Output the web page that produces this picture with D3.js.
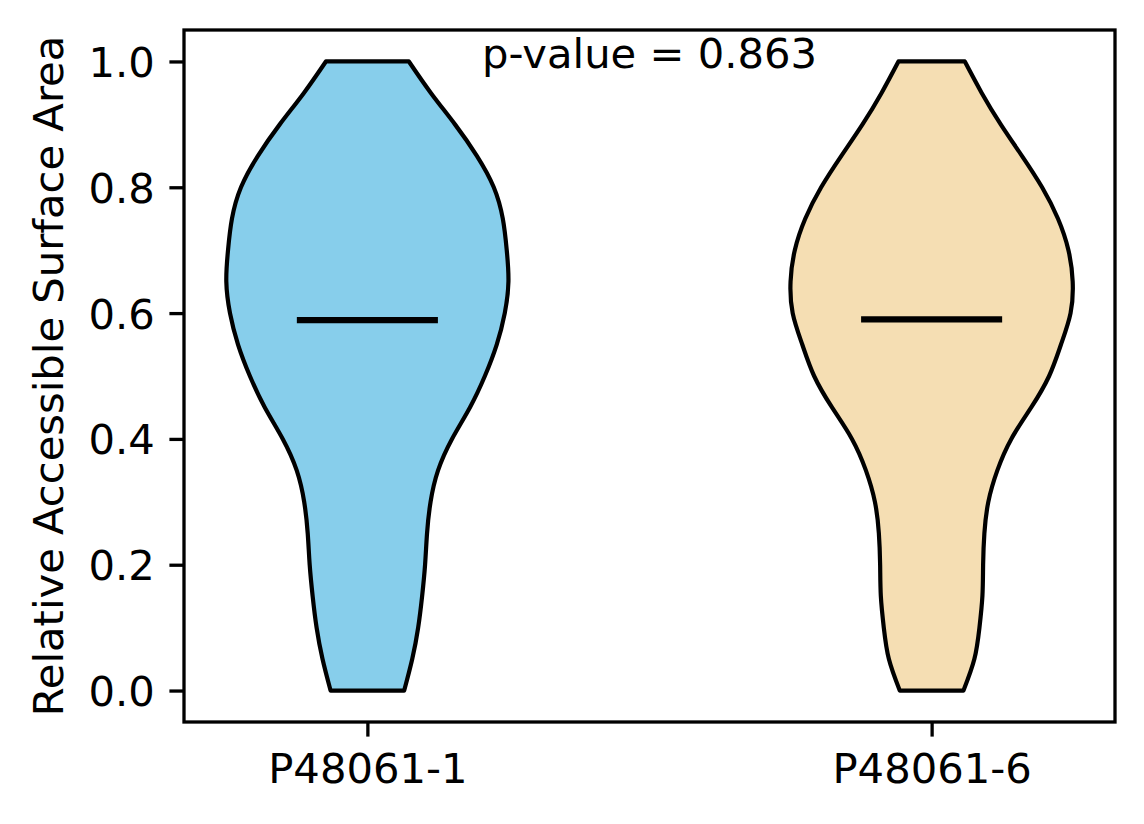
<!DOCTYPE html>
<html>
<head>
<meta charset="utf-8">
<script src="https://cdn.jsdelivr.net/npm/d3@7"></script>
<style>
  html, body { margin: 0; padding: 0; background: #fff; }
  svg { display: block; font-family: "DejaVu Sans", sans-serif; }
</style>
</head>
<body>
<div id="chart"></div>
<script>
// ── DATA ─────────────────────────────────────
const groups = ['P48061-1', 'P48061-6'];
const positions = [1, 2];
const colors = ['#87CEEB', '#F5DEB3'];

// RSA grid the density was read at
const rsaGrid = [0, 0.05, 0.1, 0.15, 0.2, 0.25, 0.3, 0.35, 0.4, 0.45, 0.5,
                 0.55, 0.6, 0.65, 0.7, 0.75, 0.8, 0.85, 0.9, 0.95, 1.0];

// relative violin width (1 = widest) at each grid value
const widthP1 = [0.261, 0.318, 0.360, 0.388, 0.409, 0.423, 0.448, 0.501, 0.600, 0.727, 0.833,
                 0.917, 0.974, 1.000, 0.988, 0.960, 0.896, 0.776, 0.621, 0.450, 0.294];
const widthP6 = [0.226, 0.303, 0.339, 0.360, 0.365, 0.374, 0.402, 0.466, 0.565, 0.706, 0.833,
                 0.917, 0.985, 1.000, 0.970, 0.896, 0.783, 0.640, 0.490, 0.355, 0.235];

const medians = [0.589, 0.590];
const pValue = 0.863;
const yTicks = [0.0, 0.2, 0.4, 0.6, 0.8, 1.0];
const yLabel = 'Relative Accessible Surface Area';

// ── LAYOUT ───────────────────────────────────
const W = 1144, H = 824;
const M = { t: 30, r: 29, b: 102, l: 184 };
const FS = 41.7;
const TICK = 14.6;

const svg = d3.select('#chart').append('svg')
  .attr('width', W)
  .attr('height', H);

const x = d3.scaleLinear().domain([0.675, 2.325]).range([M.l, W - M.r]);
const y = d3.scaleLinear().domain([-0.05, 1.05]).range([H - M.b, M.t]);

// ── VIOLINS ──────────────────────────────────
const halfWidth = 0.25;
const widths = [widthP1, widthP6];

const area = d3.area()
  .curve(d3.curveNatural);

groups.forEach((g, i) => {
  const pts = rsaGrid.map((v, k) => ({ v, w: widths[i][k] }));
  area
    .y(d => y(d.v))
    .x0(d => x(positions[i] - d.w * halfWidth))
    .x1(d => x(positions[i] + d.w * halfWidth));

  svg.append('path')
    .attr('d', area(pts))
    .attr('fill', colors[i])
    .attr('stroke', '#000')
    .attr('stroke-width', 4.2)
    .attr('stroke-linejoin', 'round');
});

// medians
svg.selectAll('line.median')
  .data(medians)
  .enter()
  .append('line')
  .attr('class', 'median')
  .attr('x1', (d, i) => x(positions[i] - halfWidth / 2))
  .attr('x2', (d, i) => x(positions[i] + halfWidth / 2))
  .attr('y1', d => y(d))
  .attr('y2', d => y(d))
  .attr('stroke', '#000')
  .attr('stroke-width', 6.25);

// ── AXES ─────────────────────────────────────
const yAxis = svg.append('g')
  .attr('transform', `translate(${M.l},0)`)
  .call(d3.axisLeft(y).tickValues(yTicks).tickFormat(d3.format('.1f'))
    .tickSize(TICK).tickPadding(TICK));

const xAxis = svg.append('g')
  .attr('transform', `translate(0,${H - M.b})`)
  .call(d3.axisBottom(x).tickValues(positions).tickFormat((d, i) => groups[i])
    .tickSize(TICK).tickPadding(TICK));

[yAxis, xAxis].forEach(a => {
  a.select('.domain').remove();
  a.selectAll('line').attr('stroke', '#000').attr('stroke-width', 3.3);
  a.selectAll('text')
    .attr('fill', '#000')
    .attr('font-size', FS)
    .attr('font-family', '"DejaVu Sans", sans-serif');
});
yAxis.selectAll('text').attr('dy', '0.36em');
xAxis.selectAll('text').attr('dy', '0.76em');

// spines
svg.append('rect')
  .attr('x', M.l)
  .attr('y', M.t)
  .attr('width', W - M.r - M.l)
  .attr('height', H - M.b - M.t)
  .attr('fill', 'none')
  .attr('stroke', '#000')
  .attr('stroke-width', 3.3);

// ── LABELS ───────────────────────────────────
svg.append('text')
  .attr('transform', `translate(63,${(M.t + H - M.b) / 2}) rotate(-90)`)
  .attr('text-anchor', 'middle')
  .attr('font-size', FS)
  .text(yLabel);

svg.append('text')
  .attr('x', (M.l + W - M.r) / 2)
  .attr('y', M.t + 37.5)
  .attr('text-anchor', 'middle')
  .attr('font-size', FS)
  .text(`p-value = ${pValue}`);
</script>
</body>
</html>
